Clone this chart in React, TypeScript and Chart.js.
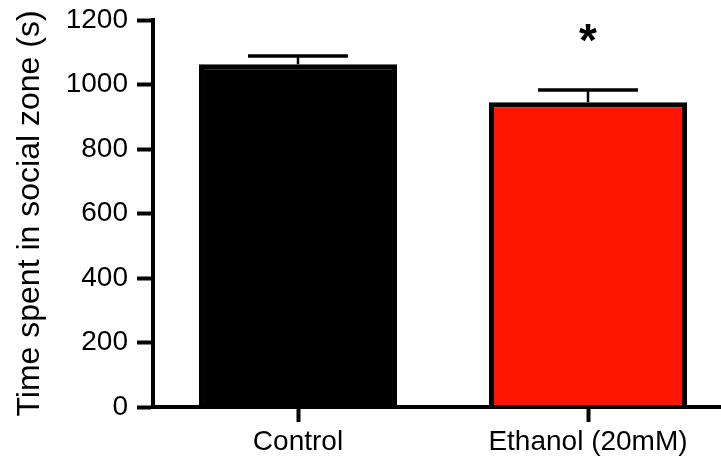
import React, { useEffect, useRef } from "react";
import { Chart, registerables } from "chart.js";
Chart.register(...registerables);

const categories = ["Control", "Ethanol (20mM)"];
const means = [1063, 945];
const sems = [25, 38];
const barColors = ["#000000", "#ff1500"];
const significance = ["", "*"];
const yMin = 0;
const yMax = 1200;
const yStep = 200;
const yTitle = "Time spent in social zone (s)";

const FONT = "Arial, 'Liberation Sans', Helvetica, sans-serif";

export default function App() {
  const ref = useRef<HTMLCanvasElement>(null);
  useEffect(() => {
    document.body.style.margin = "0";
    const errorBars = {
      id: "errorBars",
      afterDatasetsDraw(chart: any) {
        const ctx = chart.ctx;
        const meta = chart.getDatasetMeta(0);
        const y = chart.scales.y;
        ctx.save();
        ctx.strokeStyle = "#000";
        meta.data.forEach((bar: any, i: number) => {
          const x = bar.x;
          const top = y.getPixelForValue(means[i] + sems[i]);
          const base = y.getPixelForValue(means[i]);
          ctx.lineWidth = 2.5;
          ctx.beginPath();
          ctx.moveTo(x, base);
          ctx.lineTo(x, top);
          ctx.stroke();
          ctx.lineWidth = 3.5;
          ctx.beginPath();
          ctx.moveTo(x - 50, top);
          ctx.lineTo(x + 50, top);
          ctx.stroke();
          if (significance[i]) {
            ctx.fillStyle = "#000";
            ctx.font = `bold 46px ${FONT}`;
            ctx.textAlign = "center";
            ctx.textBaseline = "alphabetic";
            ctx.fillText(significance[i], x, top - 34);
          }
        });
        ctx.restore();
      },
    };
    const chart = new Chart(ref.current!, {
      type: "bar",
      data: {
        labels: categories,
        datasets: [
          {
            data: means,
            backgroundColor: barColors,
            borderColor: "#000",
            borderWidth: 5,
            barPercentage: 0.683,
            categoryPercentage: 1,
          },
        ],
      },
      options: {
        responsive: false,
        animation: false,
        devicePixelRatio: 1,
        layout: { padding: { top: 20, right: 8, left: 0, bottom: 0 } },
        plugins: { legend: { display: false }, tooltip: { enabled: false } },
        scales: {
          x: {
            offset: true,
            grid: {
              offset: false,
              drawOnChartArea: false,
              drawTicks: true,
              tickLength: 15,
              tickWidth: 4,
              tickColor: "#000",
            },
            border: { display: true, color: "#000", width: 4, z: 1 },
            ticks: {
              color: "#000",
              font: { family: FONT, size: 28 },
              padding: 3,
            },
            afterFit: (s: any) => {
              s.height = 61;
              s.paddingLeft = 0;
              s.paddingRight = 0;
            },
          },
          y: {
            min: yMin,
            max: yMax,
            ticks: {
              stepSize: yStep,
              color: "#000",
              font: { family: FONT, size: 28 },
              padding: 9,
              callback: (v: any) => String(v),
            },
            grid: {
              drawOnChartArea: false,
              drawTicks: true,
              tickLength: 16,
              tickWidth: 4,
              tickColor: "#000",
            },
            border: { display: true, color: "#000", width: 4, z: 1 },
            title: {
              display: true,
              text: yTitle,
              color: "#000",
              font: { family: FONT, size: 32 },
              padding: { top: 11, bottom: 0 },
            },
            afterFit: (s: any) => {
              s.width = 153;
              s.paddingTop = 0;
              s.paddingBottom = 0;
            },
          },
        },
      },
      plugins: [errorBars],
    });
    return () => chart.destroy();
  }, []);
  return (
    <div style={{ width: 721, height: 468, overflow: "hidden", background: "#fff" }}>
      <canvas ref={ref} width={741} height={468} style={{ display: "block" }} />
    </div>
  );
}
